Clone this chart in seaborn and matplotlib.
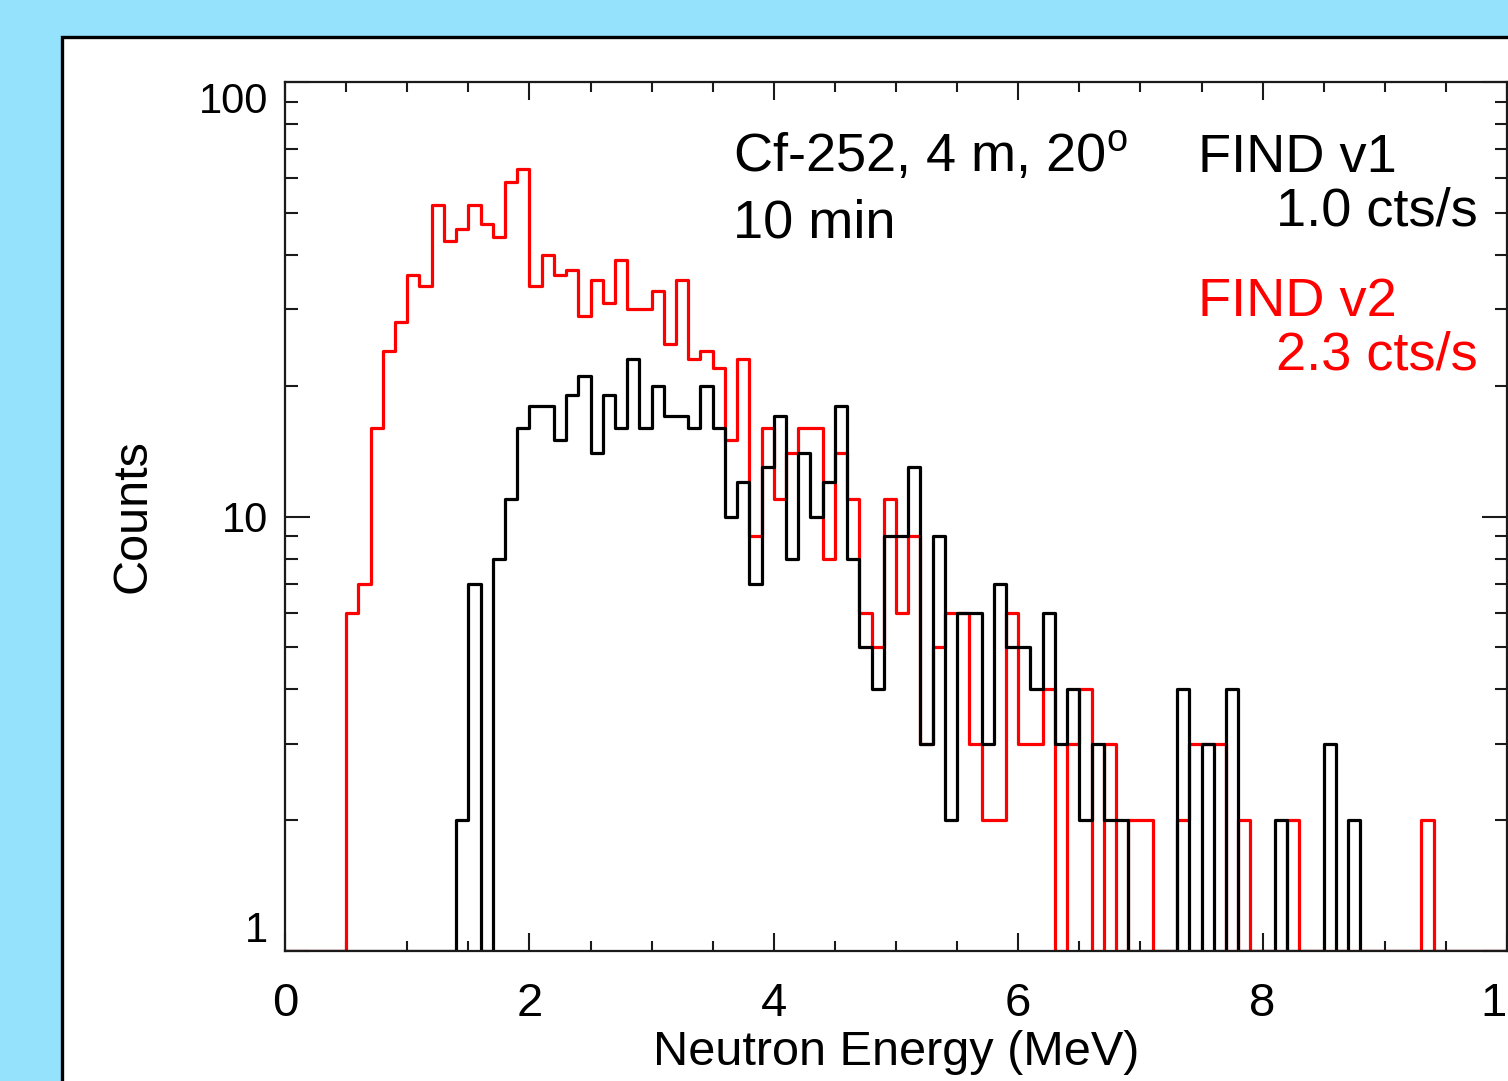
import numpy as np
import pandas as pd
import matplotlib
matplotlib.use("Agg")
import matplotlib.pyplot as plt
import seaborn as sns
from matplotlib.patches import Rectangle
from matplotlib.ticker import MultipleLocator, NullFormatter, LogLocator

# ---------------- data (counts per 0.1 MeV bin, 0 - 10 MeV) ----------------
energy_min, energy_max, bin_width = 0.0, 10.0, 0.1

counts_v1 = [
    0, 0, 0, 0, 0, 0, 0, 0, 0, 0,
    0, 0, 0, 0, 2, 7, 0, 8, 11, 16,
    18, 18, 15, 19, 21, 14, 19, 16, 23, 16,
    20, 17, 17, 16, 20, 16, 10, 12, 7, 13,
    17, 8, 14, 10, 12, 18, 8, 5, 4, 9,
    9, 13, 3, 9, 2, 6, 6, 3, 7, 5,
    5, 4, 6, 3, 4, 2, 3, 2, 2, 0,
    0, 0, 0, 4, 0, 3, 0, 4, 0, 0,
    0, 2, 0, 0, 0, 3, 0, 2, 0, 0,
    0, 0, 0, 0, 0, 0, 0, 0, 0, 0,
]

counts_v2 = [
    0, 0, 0, 0, 0, 6, 7, 16, 24, 28,
    36, 34, 52, 43, 46, 52, 47, 44, 59, 63,
    34, 40, 36, 37, 29, 35, 31, 39, 30, 30,
    33, 25, 35, 23, 24, 22, 15, 23, 9, 16,
    11, 14, 16, 16, 8, 14, 11, 6, 5, 11,
    6, 9, 3, 5, 6, 6, 3, 2, 2, 6,
    3, 3, 4, 0, 3, 4, 0, 3, 0, 2,
    2, 0, 0, 2, 3, 3, 3, 0, 2, 0,
    0, 0, 2, 0, 0, 0, 0, 0, 0, 0,
    0, 0, 0, 2, 0, 0, 0, 0, 0, 0,
]

detectors = ["FIND v1", "FIND v2"]
rates = ["1.0 cts/s", "2.3 cts/s"]
x_ticks = [0, 2, 4, 6, 8, 10]
x_ticklabels = ["0", "2", "4", "6", "8", "10"]
y_ticks = [1, 10, 100]
y_ticklabels = ["1", "10", "100"]
info_line1 = r"Cf-252, 4 m, 20$^{\rm o}$"
info_line2 = "10 min"

# ---------------- figure ----------------
sns.set_theme(style="ticks")
plt.rcParams["font.family"] = ["Liberation Sans", "DejaVu Sans"]
plt.rcParams["mathtext.fontset"] = "custom"
plt.rcParams["mathtext.rm"] = "Liberation Sans"
plt.rcParams["mathtext.it"] = "Liberation Sans:italic"

W, H = 1508, 1081
fig = plt.figure(figsize=(W / 100, H / 100), dpi=100, facecolor="#94E2FC")

# white panel with black frame (extends past right/bottom edges)
panel = Rectangle((62 / W, -0.05), 1.0, 0.05 + (1 - 37 / H),
                  transform=fig.transFigure, facecolor="white",
                  edgecolor="black", linewidth=2.4, zorder=-10)
fig.patches.append(panel)

ax = fig.add_axes([285 / W, 1 - 951 / H, 1222 / W, 869 / H], zorder=5)
ax.set_facecolor("white")

edges = [round(v, 3) for v in np.arange(energy_min, energy_max + bin_width / 2, bin_width)]
centers = np.asarray(edges[:-1]) + bin_width / 2

for counts, color in [(counts_v2, "#FF0000"), (counts_v1, "black")]:
    df = pd.DataFrame({"energy": centers,
                       "counts": np.maximum(np.asarray(counts, float), 1.0)})
    sns.histplot(data=df, x="energy", weights="counts", bins=edges,
                 element="step", fill=False, color=color, linewidth=2.3,
                 ax=ax)

ax.set_yscale("log")
ax.set_xlim(energy_min, energy_max)
ax.set_ylim(1, 100)

ax.set_xticks(x_ticks)
ax.set_xticklabels(x_ticklabels)
ax.xaxis.set_minor_locator(MultipleLocator(0.5))
ax.set_yticks(y_ticks)
ax.set_yticklabels(y_ticklabels)
ax.yaxis.set_minor_locator(LogLocator(base=10, subs=np.arange(2, 10)))
ax.yaxis.set_minor_formatter(NullFormatter())

tick_col = "#1a1a1a"
ax.tick_params(axis="both", which="both", direction="in", top=True,
               right=True, colors=tick_col, width=1.5)
ax.tick_params(axis="x", which="major", length=13, pad=22, labelsize=34)
ax.tick_params(axis="x", which="minor", length=7)
ax.tick_params(axis="y", which="major", length=18, pad=12, labelsize=30)
ax.tick_params(axis="y", which="minor", length=9)
for lab in ax.get_xticklabels() + ax.get_yticklabels():
    lab.set_color("black")
yt = ax.yaxis.get_major_ticks()
yt[0].label1.set_verticalalignment("bottom")
yt[2].label1.set_verticalalignment("top")

for s in ax.spines.values():
    s.set_linewidth(1.6)
    s.set_color(tick_col)

ax.set_xlabel("Neutron Energy (MeV)", fontsize=35, color="black")
ax.set_ylabel("Counts", fontsize=35, color="black")
ax.xaxis.set_label_coords(0.5, -0.091)
ax.yaxis.set_label_coords(-0.106, 0.5)

tkw = dict(transform=ax.transAxes, fontsize=39, va="baseline")
ax.text(0.3666, 0.8964, info_line1, ha="left", color="black", **tkw)
ax.text(0.3666, 0.8205, info_line2, ha="left", color="black", **tkw)
ax.text(0.7471, 0.8964, detectors[0], ha="left", color="black", **tkw)
ax.text(0.9763, 0.8343, rates[0], ha="right", color="black", **tkw)
ax.text(0.7471, 0.7307, detectors[1], ha="left", color="#FF0000", **tkw)
ax.text(0.9763, 0.6686, rates[1], ha="right", color="#FF0000", **tkw)

fig.savefig("out.png", dpi=100, facecolor=fig.get_facecolor())
